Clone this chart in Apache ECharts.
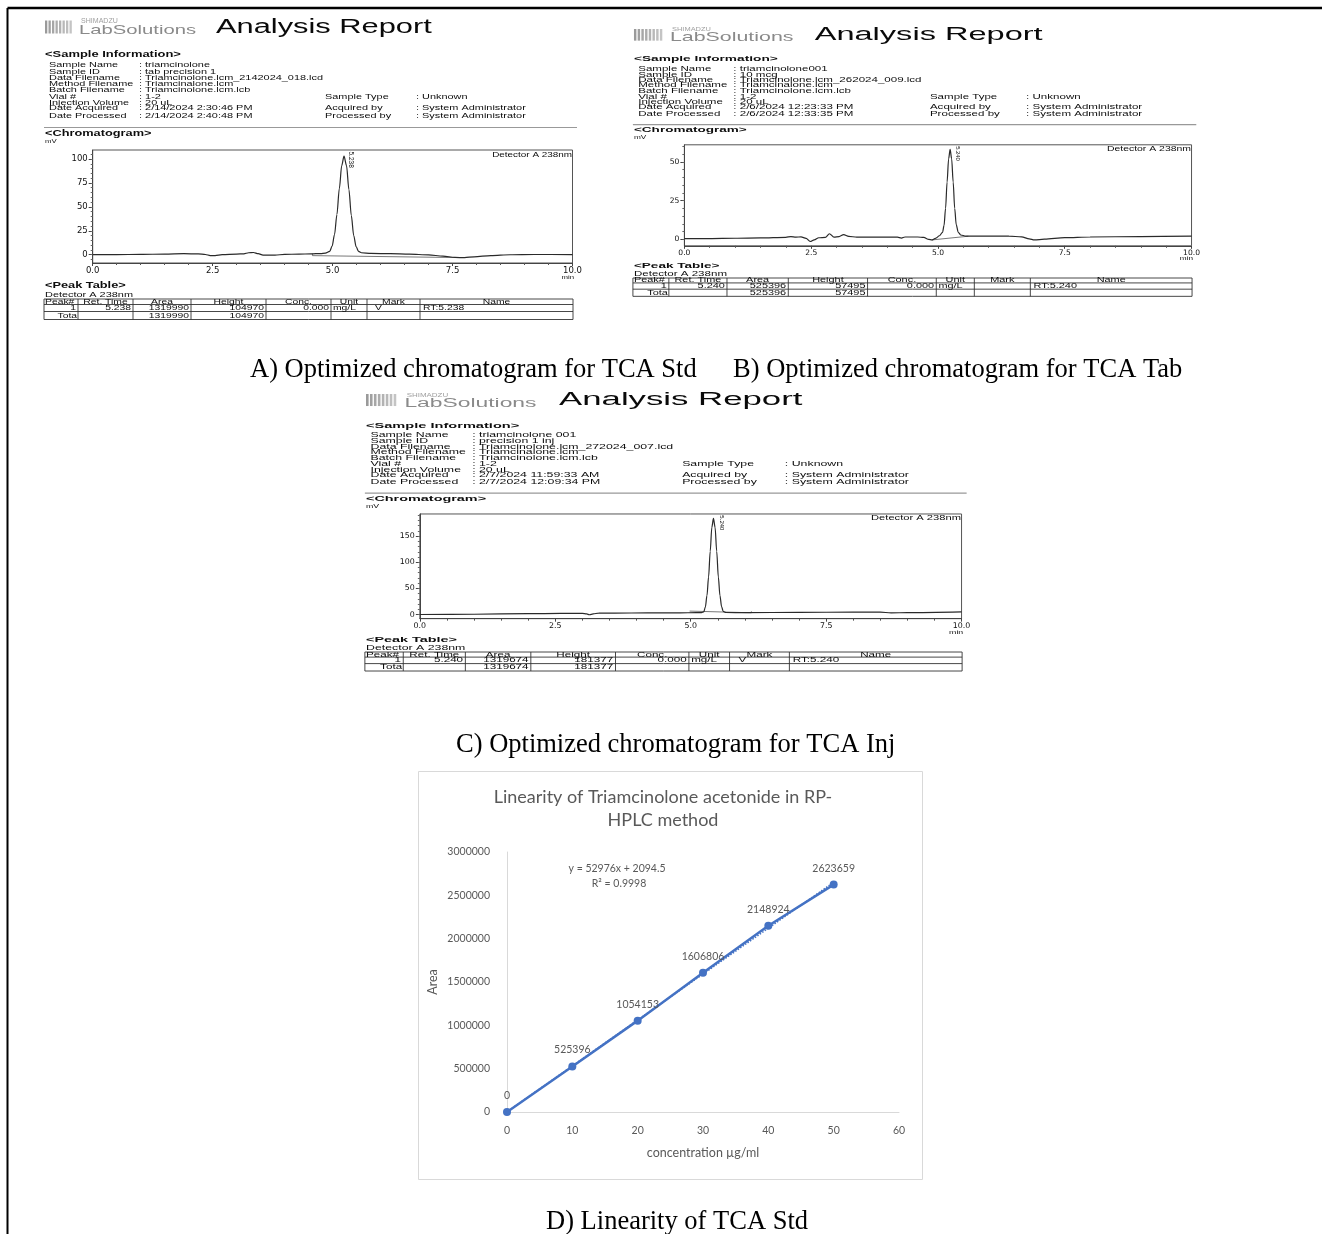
<!DOCTYPE html>
<html><head><meta charset="utf-8">
<script src="https://cdn.jsdelivr.net/npm/echarts@6/dist/echarts.min.js"></script>
<style>html,body{margin:0;padding:0;background:#fff}#c{width:1322px;height:1234px}</style>
</head><body><div id="c"></div>
<script>
// ---------------- DATA ----------------
const infoLabels = ['Sample Name','Sample ID','Data Filename','Method Filename','Batch Filename','Vial #','Injection Volume','Date Acquired','Date Processed'];
const infoA = ['triamcinolone','tab precision 1','Triamcinolone.lcm_2142024_018.lcd','Triamcinalone.lcm','Triamcinolone.lcm.lcb','1-2','20 uL','2/14/2024 2:30:46 PM','2/14/2024 2:40:48 PM'];
const infoB = ['triamcinolone001','10 mcg','Triamcinolone.lcm_262024_009.lcd','Triamcinalone.lcm','Triamcinolone.lcm.lcb','1-2','20 uL','2/6/2024 12:23:33 PM','2/6/2024 12:33:35 PM'];
const infoC = ['triamcinolone 001','precision 1 inj','Triamcinolone.lcm_272024_007.lcd','Triamcinalone.lcm','Triamcinolone.lcm.lcb','1-2','20 uL','2/7/2024 11:59:33 AM','2/7/2024 12:09:34 PM'];
const rightLabels = ['Sample Type','Acquired by','Processed by'];
const rightValues = ['Unknown','System Administrator','System Administrator'];
const tableHeader = ['Peak#','Ret. Time','Area','Height','Conc.','Unit','Mark','Name'];
const rowA = ['1','5.238','1319990','104970','0.000','mg/L','V','RT:5.238'];
const rowB = ['1','5.240','525396','57495','0.000','mg/L','','RT:5.240'];
const rowC = ['1','5.240','1319674','181377','0.000','mg/L','V','RT:5.240'];
const totalA = ['1319990','104970'];
const totalB = ['525396','57495'];
const totalC = ['1319674','181377'];

// chromatograms: [time (min), signal (mV)]
const chromA = [[0,0],[0.5,0.1],[1.0,0.3],[1.5,0.6],[1.9,1.0],[2.2,0.8],[2.35,0.2],[2.45,-0.9],[2.55,-0.9],[2.7,0.1],[3.0,0.6],[3.15,0.9],[3.25,2.0],[3.35,2.3],[3.45,1.0],[3.55,-0.4],[3.8,-0.4],[4.0,0.3],[4.3,0.6],[4.55,0.8],[4.75,1.2],[4.85,1.7],[4.94,3.5],[4.99,9],[5.04,21],[5.09,42],[5.14,69],[5.19,93],[5.238,103],[5.29,93],[5.34,68],[5.39,41],[5.44,20],[5.49,8.5],[5.54,3.5],[5.6,2.0],[5.8,1.3],[6.2,1.0],[6.6,0.6],[7.0,-0.2],[7.3,-1.5],[7.55,-2.9],[7.75,-3.1],[7.95,-2.2],[8.3,-1.0],[8.7,-0.1],[9.2,0.2],[10,0.1]];
const baseA = [[4.58,1.2],[4.58,-1.0],[7.55,-3.0]];
const chromB = [[0,0.4],[0.5,0.5],[1.0,0.7],[1.5,0.9],[2.0,1.3],[2.1,1.8],[2.2,1.4],[2.3,1.6],[2.4,0.6],[2.48,-1.4],[2.56,-0.4],[2.65,1.0],[2.78,1.3],[2.86,3.6],[2.95,1.4],[3.05,1.8],[3.14,3.0],[3.24,1.9],[3.4,1.4],[3.8,1.4],[4.2,1.4],[4.28,0.8],[4.35,1.5],[4.6,1.5],[4.72,1.2],[4.82,-0.1],[4.88,-0.4],[4.95,0.6],[5.03,2.3],[5.09,4.5],[5.12,9],[5.15,20],[5.18,37],[5.21,52],[5.24,58],[5.27,52],[5.3,37],[5.33,20],[5.36,9.5],[5.4,4.5],[5.45,2.8],[5.55,2.1],[5.9,2.1],[6.4,2.0],[6.65,1.6],[6.8,0.3],[6.9,-0.4],[7.1,0.1],[7.5,1.1],[8.0,1.5],[9.0,1.8],[10,2.0]];
const baseB = [[4.88,-0.4],[5.6,2.0]];
const chromC = [[0,0],[1.0,0.5],[2.0,1.5],[2.6,2.0],[3.0,2.0],[3.08,1.0],[3.13,-0.5],[3.2,1.2],[3.3,2.5],[3.6,2.8],[4.2,3.0],[4.8,3.2],[5.1,3.4],[5.2,3.6],[5.24,5],[5.27,14],[5.30,36],[5.33,72],[5.36,121],[5.39,167],[5.42,184],[5.45,167],[5.48,121],[5.51,72],[5.54,36],[5.57,15],[5.60,6],[5.65,3.8],[6.0,3.6],[7.0,4.0],[8.0,4.5],[8.5,4.5],[8.7,3.2],[9.0,3.5],[10,5.0]];
const baseC = [[4.98,6.5],[4.98,3.3],[6.12,3.3],[6.12,6]];
const yTicksA = [0,25,50,75,100];
const yTicksB = [0,25,50];
const yTicksC = [0,50,100,150];

// linearity
const linConc = [0,10,20,30,40,50];
const linArea = [0,525396,1054153,1606806,2148924,2623659];
const trendLine = [[0,2094.5],[50,2650894.5]];
const eqText = 'y = 52976x + 2094.5';
const r2Text = 'R\u00B2 = 0.9998';
const captions = ['A) Optimized chromatogram for TCA Std','B) Optimized chromatogram for TCA Tab','C) Optimized chromatogram for TCA Inj','D) Linearity of TCA Std'];

// ---------------- LAYOUT ----------------
const W = 1322;
const panels = [
  {ox:0, kx:1, oy:0, ky:1, info:infoA, row:rowA, total:totalA, chrom:chromA, base:baseA, yr:[-8.7,109.4], yt:yTicksA, peakT:5.238},
  {ox:586.4, kx:1.057, oy:10.7, ky:0.894, info:infoB, row:rowB, total:totalB, chrom:chromB, base:baseB, yr:[-4.2,61], yt:yTicksB, peakT:5.24},
  {ox:315.2, kx:1.129, oy:375, ky:0.9265, info:infoC, row:rowC, total:totalC, chrom:chromC, base:baseC, yr:[-8,192.5], yt:yTicksC, peakT:5.42}
];
const G = [];
const SANS = '"Liberation Sans", Arial, sans-serif';
function T(P, x, y, text, o) {
  o = o || {};
  const size = (o.size || 7) * P.ky;
  const al = o.align || 'left';
  G.push({type:'text', x: P.ox + P.kx * x, y: P.oy + P.ky * y, rotation: o.rot || 0,
    scaleX: o.rot ? 1 : (o.sx || 1.55) * P.kx / P.ky, silent: true, z: 10,
    style: {text: text, fontSize: size, fontFamily: o.family || SANS, fontWeight: o.bold ? 'bold' : 'normal',
      fill: o.color || '#0d0d0d', align: al, textAlign: al, verticalAlign: 'middle', textVerticalAlign: 'middle'}});
}
function L(P, x1, y1, x2, y2, color, w) {
  G.push({type:'line', silent:true, z: 9, shape:{x1:P.ox+P.kx*x1, y1:P.oy+P.ky*y1, x2:P.ox+P.kx*x2, y2:P.oy+P.ky*y2},
    style:{stroke: color || '#333', lineWidth: w || 1}});
}
function R(P, x, y, w, h, fill) {
  G.push({type:'rect', silent:true, z: 9, shape:{x:P.ox+P.kx*x, y:P.oy+P.ky*y, width:P.kx*w, height:P.ky*h}, style:{fill: fill}});
}
function range(a, b, s) { const r = []; for (let v = a; v <= b + 1e-9; v += s) r.push(+v.toFixed(4)); return r; }

const grids = [], xAxes = [], yAxes = [], series = [];
const cols = [44, 78, 133, 191, 266, 331, 367, 420, 573];
const rowY = [65, 71.5, 77.5, 83.5, 89.5, 96.5, 102.5, 108.2, 115.5];
const bars = ['#9a9a9a','#a0a0a0','#a6a6a6','#acacac','#b2b2b2','#b8b8b8','#bebebe','#c4c4c4'];

panels.forEach((P, i) => {
  // logo
  bars.forEach((c, k) => R(P, 45 + k * 3.5, 20.5, 2.3, 13, c));
  T(P, 81, 21.5, 'SHIMADZU', {size:6.3, sx:1.12, color:'#a0a0a0'});
  T(P, 79, 30.5, 'LabSolutions', {size:13.5, sx:1.5, color:'#8a8a8a'});
  T(P, 216, 27.5, 'Analysis Report', {size:19.5, sx:1.58, color:'#0a0a0a'});
  T(P, 45, 54.5, '<Sample Information>', {size:8.2, bold:true, sx:1.58});
  infoLabels.forEach((lab, k) => {
    T(P, 49, rowY[k], lab, {size:7.7, sx:1.42});
    T(P, 139, rowY[k], ': ' + P.info[k], {size:7.7, sx:1.42});
  });
  [5, 7, 8].forEach((k, j) => {
    T(P, 325, rowY[k], rightLabels[j], {size:7.7, sx:1.42});
    T(P, 416, rowY[k], ': ' + rightValues[j], {size:7.7, sx:1.42});
  });
  L(P, 44, 127.5, 577, 127.5, '#999', 1.2);
  T(P, 45, 133.5, '<Chromatogram>', {size:8.2, bold:true, sx:1.56});
  T(P, 45, 141.5, 'mV', {size:6, sx:1.3});
  T(P, 572, 154.5, 'Detector A 238nm', {size:7.5, sx:1.32, align:'right'});
  T(P, 574, 277.5, 'min', {size:6, sx:1.3, align:'right'});
  const px = 92.7 + P.peakT / 10 * 479.8 + 7;
  T(P, px, 151.5, P.row[1], {size:6.5, rot:-Math.PI / 2});
  // peak table
  T(P, 45, 286, '<Peak Table>', {size:8.2, bold:true, sx:1.56});
  T(P, 45, 294.7, 'Detector A 238nm', {size:7.7, sx:1.42});
  [299, 304.5, 311.5, 319.5].forEach(y => L(P, 44, y, 573, y, '#333', 0.9));
  cols.forEach(x => L(P, x, 299, x, 319.5, '#333', 0.9));
  const ts = {size:7.6, sx:1.36};
  T(P, 45, 301.8, tableHeader[0], ts);
  for (let c = 1; c < 8; c++) T(P, (cols[c] + cols[c + 1]) / 2, 301.8, tableHeader[c], Object.assign({align:'center'}, ts));
  [0,1,2,3,4].forEach(c => T(P, cols[c + 1] - 2, 308, P.row[c], Object.assign({align:'right'}, ts)));
  T(P, cols[5] + 2, 308, P.row[5], ts);
  T(P, cols[6] + 8, 308, P.row[6], ts);
  T(P, cols[7] + 3, 308, P.row[7], ts);
  T(P, cols[1] - 1, 315.5, 'Tota', Object.assign({align:'right'}, ts));
  T(P, cols[3] - 2, 315.5, P.total[0], Object.assign({align:'right'}, ts));
  T(P, cols[4] - 2, 315.5, P.total[1], Object.assign({align:'right'}, ts));

  // chart grid
  const gl = P.ox + P.kx * 92.7, gr = P.ox + P.kx * 572.5, gt = P.oy + P.ky * 150, gh = P.ky * 113;
  grids.push({left: gl, top: gt, width: gr - gl, height: gh, show: true, borderColor: '#555', borderWidth: 1, backgroundColor: 'transparent', containLabel: false, outerBoundsMode: 'none'});
  const fs = 8.5 * P.ky;
  xAxes.push({type:'value', gridIndex:i, min:0, max:10, interval:2.5,
    axisLine:{show:true, onZero:false, lineStyle:{color:'#444', width:1}},
    axisTick:{show:true, length:3, lineStyle:{color:'#444'}},
    minorTick:{show:true, splitNumber:5, length:2, lineStyle:{color:'#555'}},
    axisLabel:{formatter: v => v.toFixed(1), fontSize: fs, fontFamily:'"DejaVu Sans"', color:'#111', margin:3},
    splitLine:{show:false}, minorSplitLine:{show:false}});
  yAxes.push({type:'value', gridIndex:i, position:'left', min:P.yr[0], max:P.yr[1],
    axisLine:{show:true, onZero:false, lineStyle:{color:'#444', width:1}},
    axisTick:{show:true, length:4, customValues:P.yt, lineStyle:{color:'#444'}},
    axisLabel:{customValues:P.yt, fontSize: fs, fontFamily:'"DejaVu Sans"', color:'#111', margin:5},
    splitLine:{show:false}});
  const minorStep = P.yr[1] > 150 ? 10 : 5;
  yAxes.push({type:'value', gridIndex:i, position:'left', offset:0, min:P.yr[0], max:P.yr[1],
    axisLine:{show:false}, axisLabel:{show:false}, splitLine:{show:false},
    axisTick:{show:true, length:2, customValues: range(Math.ceil(P.yr[0] / minorStep) * minorStep, P.yr[1], minorStep), lineStyle:{color:'#666'}}});
  series.push({type:'line', xAxisIndex:i, yAxisIndex:2 * i, data:P.chrom, showSymbol:false, symbol:'none',
    smooth:0.3, smoothMonotone:'x', lineStyle:{color:'#2a2a2a', width:1.2}, z:3});
  series.push({type:'line', xAxisIndex:i, yAxisIndex:2 * i, data:P.base, showSymbol:false, symbol:'none',
    lineStyle:{color:'#555', width:0.8}, z:2});
});

// page border
G.push({type:'line', silent:true, shape:{x1:7.5, y1:8, x2:W, y2:8}, style:{stroke:'#000', lineWidth:2.5}});
G.push({type:'line', silent:true, shape:{x1:7.5, y1:8, x2:7.5, y2:1234}, style:{stroke:'#000', lineWidth:2}});

// captions
const capPos = [[250,370],[733,370],[456,745],[546,1222]];
captions.forEach((c, k) => G.push({type:'text', x:capPos[k][0], y:capPos[k][1], silent:true,
  style:{text:c, fontSize:26.5, fontFamily:'"Liberation Serif", "Times New Roman", serif', fill:'#000', align:'left', textAlign:'left', verticalAlign:'middle', textVerticalAlign:'middle'}}));

// linearity chart frame and texts
G.push({type:'rect', silent:true, shape:{x:418.5, y:771.5, width:504, height:408}, style:{fill:'none', stroke:'#d9d9d9', lineWidth:1}});
const LATO = 'Lato, "Open Sans", sans-serif';
[['Linearity of Triamcinolone acetonide in RP-', 797], ['HPLC method', 820]].forEach(t => G.push({type:'text', x:663, y:t[1], silent:true,
  style:{text:t[0], fontSize:18, fontFamily:LATO, fill:'#595959', align:'center', textAlign:'center', verticalAlign:'middle', textVerticalAlign:'middle'}}));
[[eqText, 617, 869], [r2Text, 619, 884]].forEach(t => G.push({type:'text', x:t[1], y:t[2], silent:true,
  style:{text:t[0], fontSize:10.5, fontFamily:LATO, fill:'#595959', align:'center', textAlign:'center', verticalAlign:'middle', textVerticalAlign:'middle'}}));

grids.push({left:507, top:852, width:392, height:260, show:false, containLabel:false, outerBoundsMode:'none'});
xAxes.push({type:'value', gridIndex:3, min:0, max:60, interval:10,
  axisLine:{show:true, onZero:false, lineStyle:{color:'#d9d9d9', width:1}}, axisTick:{show:false},
  axisLabel:{color:'#595959', fontSize:10.5, fontFamily:LATO, margin:13}, splitLine:{show:false},
  name:'concentration \u00B5g/ml', nameLocation:'middle', nameGap:34, nameTextStyle:{color:'#595959', fontSize:12.5, fontFamily:LATO}});
yAxes.push({type:'value', gridIndex:3, min:0, max:3000000, interval:500000,
  axisLine:{show:true, onZero:false, lineStyle:{color:'#d9d9d9', width:1}}, axisTick:{show:false},
  axisLabel:{color:'#595959', fontSize:10.5, fontFamily:LATO, margin:17, formatter: v => String(v)}, splitLine:{show:false},
  name:'Area', nameLocation:'middle', nameGap:68, nameRotate:90, nameTextStyle:{color:'#595959', fontSize:12.5, fontFamily:LATO}});
series.push({type:'line', xAxisIndex:3, yAxisIndex:6, data:trendLine, symbol:'none', showSymbol:false,
  lineStyle:{color:'#4472C4', width:1.5, type:'dotted'}, z:2});
series.push({type:'line', xAxisIndex:3, yAxisIndex:6, data:linConc.map((x, k) => [x, linArea[k]]),
  symbol:'circle', symbolSize:8, itemStyle:{color:'#4472C4'}, lineStyle:{color:'#4472C4', width:2.5}, z:3,
  label:{show:true, position:'top', distance:7, color:'#595959', fontSize:10.5, fontFamily:LATO, formatter: p => String(p.value[1])}});

const chart = echarts.init(document.getElementById('c'), null, {renderer:'canvas', width:1322, height:1234});
chart.setOption({animation:false, backgroundColor:'#fff', grid:grids, xAxis:xAxes, yAxis:yAxes, series:series, graphic:{elements:G}});
</script></body></html>
